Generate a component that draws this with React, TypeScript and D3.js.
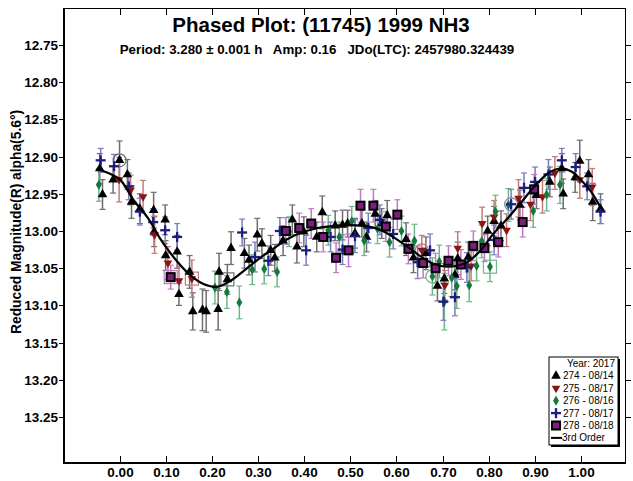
import React, { useRef, useEffect } from "react";
import * as d3 from "d3";

// phase, reduced magnitude, error
const s274 = [
  [-0.044, 12.916, 0.02], [-0.038, 12.951, 0.02], [-0.001, 12.905, 0.026], [-0.015, 12.931, 0.018],
  [0.016, 12.924, 0.02], [0.025, 12.961, 0.022], [0.043, 12.97, 0.02], [0.073, 12.972, 0.024],
  [0.074, 13.001, 0.02], [0.098, 12.985, 0.02], [0.124, 13.028, 0.022], [0.099, 13.033, 0.02],
  [0.128, 13.085, 0.015], [0.151, 13.055, 0.022], [0.158, 13.108, 0.025], [0.179, 13.106, 0.028],
  [0.187, 13.108, 0.028], [0.213, 13.105, 0.028], [0.215, 13.055, 0.025], [0.233, 13.065, 0.02],
  [0.241, 13.023, 0.022], [0.27, 13.03, 0.02], [0.28, 13.039, 0.02], [0.298, 13.005, 0.022],
  [0.308, 13.017, 0.02], [0.327, 13.026, 0.02], [0.336, 13.036, 0.018], [0.354, 13.013, 0.02],
  [0.374, 12.985, 0.02], [0.384, 13.021, 0.022], [0.399, 13.001, 0.02], [0.427, 13.008, 0.02],
  [0.439, 12.975, 0.022], [0.467, 12.993, 0.02], [0.483, 12.992, 0.02], [0.494, 12.99, 0.018],
  [0.51, 13.003, 0.02], [0.525, 12.99, 0.018], [0.535, 13.008, 0.02], [0.554, 12.977, 0.018],
  [0.568, 12.99, 0.02], [0.58, 12.979, 0.02], [0.621, 13.011, 0.022], [0.637, 13.036, 0.02],
  [0.664, 13.03, 0.022], [0.689, 13.074, 0.02], [0.704, 13.064, 0.02], [0.727, 13.059, 0.02],
  [0.733, 13.037, 0.022], [0.756, 13.035, 0.02], [0.798, 13.0, 0.02], [0.812, 12.987, 0.02],
  [0.827, 12.993, 0.02], [0.868, 12.965, 0.02], [0.904, 12.952, 0.018], [0.933, 12.934, 0.02],
  [0.959, 12.916, 0.02], [0.962, 12.95, 0.02], [0.988, 12.928, 0.02], [0.998, 12.906, 0.028],
  [1.017, 12.924, 0.02], [1.026, 12.961, 0.025], [1.043, 12.97, 0.02],
];
const s275 = [
  [-0.002, 12.931, 0.03], [0.023, 12.945, 0.02], [0.05, 12.954, 0.022], [0.075, 13.005, 0.025],
  [0.104, 13.043, 0.022], [0.128, 13.067, 0.02], [0.156, 13.064, 0.025], [0.655, 13.026, 0.02],
  [0.705, 13.073, 0.02], [0.733, 13.023, 0.022], [0.762, 13.047, 0.02], [0.786, 12.99, 0.022],
  [0.812, 12.981, 0.022], [0.839, 12.999, 0.022], [0.865, 12.956, 0.025], [0.891, 12.964, 0.022],
  [0.917, 12.954, 0.022], [0.944, 12.922, 0.022], [0.998, 12.931, 0.025], [1.025, 12.941, 0.025],
];
const s276 = [
  [-0.046, 12.938, 0.022], [0.206, 13.076, 0.022], [0.232, 13.082, 0.022], [0.259, 13.096, 0.022],
  [0.287, 13.052, 0.02], [0.313, 13.051, 0.02], [0.341, 13.055, 0.02], [0.367, 13.001, 0.02],
  [0.452, 12.999, 0.02], [0.476, 13.008, 0.02], [0.503, 12.987, 0.02], [0.53, 13.013, 0.02],
  [0.559, 12.997, 0.02], [0.585, 13.015, 0.02], [0.611, 13.0, 0.02], [0.639, 13.013, 0.022],
  [0.678, 13.061, 0.025], [0.693, 13.041, 0.022], [0.704, 13.095, 0.038], [0.72, 13.063, 0.025],
  [0.731, 13.074, 0.03], [0.758, 13.073, 0.022], [0.774, 13.047, 0.02], [0.785, 13.014, 0.022],
  [0.803, 13.048, 0.02], [0.815, 12.974, 0.022], [0.843, 12.965, 0.022], [0.897, 12.973, 0.022],
  [0.926, 12.951, 0.022], [0.955, 12.938, 0.025],
];
const s277 = [
  [-0.042, 12.905, 0.016], [-0.013, 12.913, 0.016], [0.019, 12.94, 0.018], [0.043, 12.974, 0.018],
  [0.072, 12.988, 0.018], [0.098, 12.999, 0.018], [0.124, 13.008, 0.018], [0.265, 13.002, 0.018],
  [0.293, 13.035, 0.02], [0.322, 13.04, 0.02], [0.347, 13.0, 0.018], [0.404, 13.026, 0.02],
  [0.457, 13.008, 0.02], [0.483, 13.025, 0.02], [0.51, 13.007, 0.022], [0.539, 12.996, 0.02],
  [0.564, 12.985, 0.02], [0.593, 13.004, 0.02], [0.646, 13.042, 0.022], [0.673, 13.026, 0.022],
  [0.702, 13.095, 0.025], [0.727, 13.089, 0.025], [0.753, 13.049, 0.02], [0.812, 13.012, 0.02],
  [0.849, 12.964, 0.02], [0.877, 12.942, 0.02], [0.901, 12.934, 0.02], [0.93, 12.924, 0.02],
  [0.959, 12.905, 0.016], [0.989, 12.914, 0.018], [1.014, 12.94, 0.018], [1.043, 12.974, 0.016],
];
const s278 = [
  [0.11, 13.062, 0.016], [0.36, 13.0, 0.018], [0.389, 12.996, 0.02], [0.415, 12.99, 0.02],
  [0.441, 13.008, 0.02], [0.469, 13.036, 0.02], [0.496, 13.026, 0.022], [0.522, 12.966, 0.022],
  [0.55, 12.966, 0.022], [0.577, 12.994, 0.02], [0.602, 12.978, 0.02], [0.626, 13.024, 0.02],
  [0.658, 13.043, 0.02], [0.685, 13.05, 0.02], [0.713, 13.04, 0.02], [0.74, 13.045, 0.02],
  [0.767, 13.02, 0.02], [0.791, 13.023, 0.018], [0.821, 13.015, 0.02], [0.874, 12.988, 0.02],
  [0.899, 12.944, 0.02],
];
// points drawn with an extra open ring/box: series index, phase, mag, shape
const flagged = [
  [0, -0.001, 12.905, "circle"], [1, 0.156, 13.064, "box"], [0, 0.233, 13.065, "box"],
  [4, 0.11, 13.062, "box"], [1, 0.655, 13.026, "circle"], [2, 0.678, 13.061, "circle"],
  [2, 0.803, 13.048, "box"], [3, 0.849, 12.964, "circle"],
];
// 3rd order fit
const fit = [
  [-0.05, 12.917], [-0.03, 12.921], [0.0, 12.931], [0.03, 12.959], [0.06, 12.982], [0.09, 13.013],
  [0.12, 13.038], [0.15, 13.058], [0.18, 13.071], [0.21, 13.075], [0.24, 13.067], [0.27, 13.053],
  [0.3, 13.038], [0.33, 13.025], [0.36, 13.012], [0.39, 13.003], [0.43, 12.996], [0.47, 12.993],
  [0.5, 12.992], [0.54, 12.994], [0.57, 13.0], [0.61, 13.015], [0.65, 13.033], [0.68, 13.044],
  [0.71, 13.048], [0.75, 13.043], [0.78, 13.028], [0.81, 13.004], [0.84, 12.984], [0.87, 12.962],
  [0.9, 12.94], [0.93, 12.922], [0.955, 12.916], [0.98, 12.92], [1.0, 12.931], [1.02, 12.945],
  [1.045, 12.97],
];
const sessions = ["274 - 08/14", "275 - 08/17", "276 - 08/16", "277 - 08/17", "278 - 08/18"];
const xTicks = [0, 0.1, 0.2, 0.3, 0.4, 0.5, 0.6, 0.7, 0.8, 0.9, 1.0];
const yTicks = [12.75, 12.8, 12.85, 12.9, 12.95, 13.0, 13.05, 13.1, 13.15, 13.2, 13.25];

const FONT = "'Liberation Sans', Arial, sans-serif";

function PhasedPlot() {
  const svgRef = useRef(null);

  useEffect(() => {
    const svg = d3.select(svgRef.current);
    svg.selectAll("*").remove();
    const L = 64, R = 626, T = 8, B = 463;
    const x = d3.scaleLinear().domain([-0.1216, 1.0983]).range([L, R]);
    const y = d3.scaleLinear().domain([12.7003, 13.3118]).range([T, B]);

    // titles
    svg.append("text").attr("x", 321).attr("y", 32).attr("text-anchor", "middle")
      .style("font", `bold 20.5px ${FONT}`).text("Phased Plot: (11745) 1999 NH3");
    svg.append("text").attr("x", 317).attr("y", 54).attr("text-anchor", "middle")
      .attr("xml:space", "preserve")
      .style("font", `bold 13.3px ${FONT}`)
      .text("Period: 3.280 \u00b1 0.001 h   Amp: 0.16   JDo(LTC): 2457980.324439");

    // y label
    svg.append("text").attr("transform", `translate(21,${222}) rotate(-90)`)
      .attr("text-anchor", "middle").style("font", `bold 13.8px ${FONT}`)
      .text("Reduced Magnitude(R) alpha(5.6\u00b0)");

    // frame
    svg.append("line").attr("x1", L).attr("x2", R).attr("y1", T + 0.5).attr("y2", T + 0.5).attr("stroke", "#000");
    svg.append("line").attr("x1", R - 0.5).attr("x2", R - 0.5).attr("y1", T).attr("y2", B).attr("stroke", "#000");
    svg.append("line").attr("x1", L).attr("x2", L).attr("y1", T).attr("y2", B + 1).attr("stroke", "#000").attr("stroke-width", 2);
    svg.append("line").attr("x1", L - 1).attr("x2", R).attr("y1", B).attr("y2", B).attr("stroke", "#000").attr("stroke-width", 2);

    // x ticks
    xTicks.forEach((t) => {
      const px = Math.round(x(t)) + 0.5;
      svg.append("line").attr("x1", px).attr("x2", px).attr("y1", B).attr("y2", B - 7).attr("stroke", "#000");
      svg.append("line").attr("x1", px).attr("x2", px).attr("y1", T).attr("y2", T + 7).attr("stroke", "#000");
      svg.append("text").attr("x", px).attr("y", B + 14).attr("text-anchor", "middle")
        .style("font", `bold 13.5px ${FONT}`).text(t.toFixed(2));
    });
    // y ticks
    yTicks.forEach((t) => {
      const py = Math.round(y(t)) + 0.5;
      svg.append("line").attr("x1", L - 5).attr("x2", L).attr("y1", py).attr("y2", py).attr("stroke", "#000");
      svg.append("line").attr("x1", R).attr("x2", R + 5).attr("y1", py).attr("y2", py).attr("stroke", "#000");
      svg.append("text").attr("x", L - 6).attr("y", py + 4.5).attr("text-anchor", "end")
        .style("font", `bold 13.5px ${FONT}`).text(t.toFixed(2));
    });

    const series = [
      { d: s274, color: "#000000", err: "#6e6e6e", shape: "up" },
      { d: s275, color: "#8b1414", err: "#c47a7a", shape: "down" },
      { d: s276, color: "#137a3c", err: "#6fb88a", shape: "diamond" },
      { d: s277, color: "#1e1e82", err: "#7c7cc0", shape: "plus" },
      { d: s278, color: "#7b1f7e", err: "#c07ac4", shape: "square" },
    ];

    // error bars
    const gErr = svg.append("g");
    series.forEach((s) => {
      s.d.forEach(([p, m, e]) => {
        const px = x(p);
        gErr.append("line").attr("x1", px).attr("x2", px).attr("y1", y(m - e)).attr("y2", y(m + e))
          .attr("stroke", s.err).attr("stroke-width", 1.5);
        [m - e, m + e].forEach((v) => {
          gErr.append("line").attr("x1", px - 3).attr("x2", px + 3).attr("y1", y(v)).attr("y2", y(v))
            .attr("stroke", s.err).attr("stroke-width", 1.2);
        });
      });
    });

    // open rings / boxes
    flagged.forEach(([si, p, m, kind]) => {
      const c = series[si].err;
      if (kind === "circle") {
        gErr.append("circle").attr("cx", x(p)).attr("cy", y(m)).attr("r", 6.5)
          .attr("fill", "none").attr("stroke", c).attr("stroke-width", 1.2);
      } else {
        gErr.append("rect").attr("x", x(p) - 6.5).attr("y", y(m) - 6.5).attr("width", 13).attr("height", 13)
          .attr("fill", "none").attr("stroke", c).attr("stroke-width", 1.2);
      }
    });

    const drawMarker = (g, shape, color, px, py) => {
      if (shape === "up") {
        g.append("path").attr("d", d3.symbol(d3.symbolTriangle, 40)()).attr("transform", `translate(${px},${py})`).attr("fill", color);
      } else if (shape === "down") {
        g.append("path").attr("d", d3.symbol(d3.symbolTriangle, 32)()).attr("transform", `translate(${px},${py}) rotate(180)`).attr("fill", color);
      } else if (shape === "diamond") {
        g.append("path").attr("d", d3.symbol(d3.symbolDiamond, 30)()).attr("transform", `translate(${px},${py})`).attr("fill", color);
      } else if (shape === "plus") {
        g.append("line").attr("x1", px - 5).attr("x2", px + 5).attr("y1", py).attr("y2", py).attr("stroke", color).attr("stroke-width", 2.3);
        g.append("line").attr("x1", px).attr("x2", px).attr("y1", py - 5).attr("y2", py + 5).attr("stroke", color).attr("stroke-width", 2.3);
      } else {
        g.append("rect").attr("x", px - 4).attr("y", py - 4).attr("width", 8).attr("height", 8)
          .attr("fill", color).attr("stroke", "#000").attr("stroke-width", 2);
      }
    };

    const gPts = svg.append("g");
    series.forEach((s) => {
      s.d.forEach(([p, m]) => drawMarker(gPts, s.shape, s.color, x(p), y(m)));
    });

    // fit curve
    const line = d3.line().x((d) => x(d[0])).y((d) => y(d[1])).curve(d3.curveCatmullRom);
    svg.append("path").attr("d", line(fit)).attr("fill", "none").attr("stroke", "#000").attr("stroke-width", 2.2);

    // legend
    const lx = 549, ly = 357, lw = 69, lh = 88;
    svg.append("rect").attr("x", lx + 2).attr("y", ly + 2).attr("width", lw).attr("height", lh).attr("fill", "#000");
    svg.append("rect").attr("x", lx).attr("y", ly).attr("width", lw).attr("height", lh).attr("fill", "#fff").attr("stroke", "#000");
    svg.append("text").attr("x", lx + lw - 3).attr("y", ly + 10).attr("text-anchor", "end")
      .style("font", `10px ${FONT}`).text("Year: 2017");
    sessions.forEach((name, i) => {
      const ry = ly + 10 + 12.4 * (i + 1);
      drawMarker(svg, series[i].shape, series[i].color, lx + 7, ry - 3.5);
      svg.append("text").attr("x", lx + 14).attr("y", ry).style("font", `10px ${FONT}`).text(name);
    });
    const ry = ly + 10 + 12.4 * 6;
    svg.append("line").attr("x1", lx + 2).attr("x2", lx + 13).attr("y1", ry - 3.5).attr("y2", ry - 3.5).attr("stroke", "#000").attr("stroke-width", 2);
    svg.append("text").attr("x", lx + 13).attr("y", ry).style("font", `10px ${FONT}`).text("3rd Order");
  }, []);

  return (
    <svg ref={svgRef} width={633} height={481}
      style={{ position: "absolute", left: 0, top: 0, background: "#fff" }} />
  );
}

export default function App() {
  return <PhasedPlot />;
}
